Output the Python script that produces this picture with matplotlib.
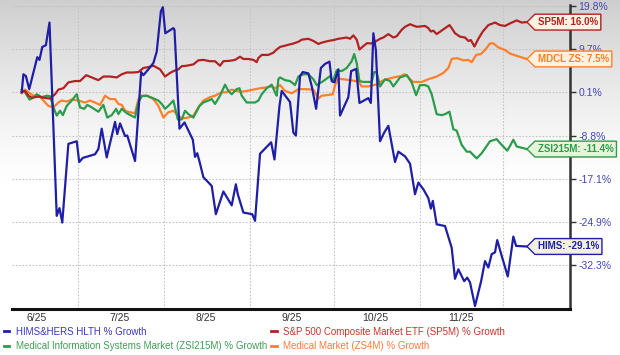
import numpy as np
import pandas as pd
import matplotlib
matplotlib.use("Agg")
import matplotlib.pyplot as plt
from matplotlib.path import Path
from matplotlib.lines import Line2D

plt.rcParams["font.family"] = ["Liberation Sans", "DejaVu Sans"]

# data: x = days since 2025-06-09, y = % growth
base = pd.Timestamp("2025-06-09")

hims_days = [1.7, 2.3, 3.2, 4.4, 7.3, 8.1, 9.1, 10.4, 11.7, 14.3, 15.3, 16.3, 18.5, 21.5, 22.4,
             23.7, 28.1, 29.3, 30.5, 32.3, 35.3, 36.1, 37.1, 38.9, 39.7, 42.5, 44.7, 45.5, 47.3,
             49.1, 50.3, 51.8, 52.5, 53.4, 56.3, 56.7, 58.5, 60.3, 63.3, 64.1, 64.9, 65.9, 67.1,
             70.1, 71.6, 74.3, 77.3, 78.8, 79.5, 81.5, 84.7, 85.7, 87.5, 91.5, 92.7, 94.5, 95.3,
             98.3, 99.5, 100.4, 101.9, 102.9, 104.9, 106.1, 107.7, 109.4, 110.9, 112.5, 113.3,
             114.3, 115.7, 116.3, 119.3, 120.3, 122.1, 123.3, 126.5, 127.4, 128.3, 129.2, 130.7,
             132.2, 133.7, 136.1, 137.3, 139.7, 141.5, 143.3, 144.5, 146.3, 148.1, 149.0, 149.7,
             151.1, 154.1, 156.5, 157.7, 158.9, 161.0, 162.1, 163.1, 164.9, 167.1, 168.5, 169.7,
             170.9, 172.1, 172.9, 174.5, 176.7, 178.7, 179.7, 183.5]
hims_vals = [0.1, 4.1, 3.7, 0.8, 7.9, 7.3, 10.2, 10.6, 15.9, -23.8, -22.4, -25.0, -10.4, -9.9, -13.9,
             -13.1, -12.4, -11.4, -7.4, -13.0, -6.0, -8.5, -6.3, -8.9, -8.8, -13.7, 4.6, 3.9, 5.2,
             6.6, 9.1, 18.5, 19.5, 13.4, 14.6, 14.2, -7.4, -6.1, -9.6, -12.9, -12.2, -14.2, -16.8,
             -18.4, -23.5, -19.4, -21.9, -18.1, -19.9, -23.2, -23.5, -24.7, -12.3, -10.1, -13.4, -2.7, 0.4,
             -1.9, -8.2, -8.8, 3.7, 4.6, 4.3, 1.5, -3.3, 5.5, 6.4, 6.9, 2.6,
             2.3, 5.2, -4.7, -0.9, 4.8, 5.3, -2.1, -1.1, -2.1, 13.4, 9.5, -9.9,
             -8.2, -6.8, -13.9, -11.9, -12.8, -14.2, -19.9, -17.8, -19.0, -20.6, -22.5, -21.1,
             -25.3, -25.6, -29.3, -34.6, -33.0, -35.0, -34.4, -35.2, -39.2, -35.0, -31.6, -32.7,
             -30.4, -30.1, -28.0, -30.7, -34.2, -27.4, -29.0, -29.1]

sp5m_days = [1.7, 2.9, 4.1, 5.3, 7.7, 9.5, 11.9, 13.7, 14.9, 16.7, 18.5, 20.9, 22.7, 24.9, 26.9,
             29.3, 31.1, 33.5, 35.9, 37.7, 39.5, 41.9, 43.7, 45.5, 47.3, 49.1, 51.5, 53.3, 55.1,
             56.3, 58.1, 59.3, 61.1, 63.5, 65.3, 67.1, 69.5, 71.3, 73.1, 74.3, 76.7, 78.5, 80.3,
             81.5, 83.3, 85.1, 86.3, 86.9, 88.1, 90.5, 92.3, 93.5, 94.7, 97.1, 99.5, 101.3, 102.5,
             104.9, 106.7, 108.5, 109.7, 112.1, 113.9, 115.7, 118.7, 119.9, 121.1, 122.3, 123.3,
             124.7, 126.1, 127.4, 128.9, 130.7, 131.9, 133.7, 135.5, 136.7, 138.5, 139.7, 141.5,
             143.9, 146.9, 148.1, 149.0, 149.9, 151.1, 153.5, 155.7, 156.5, 157.7, 159.5, 161.3,
             162.5, 163.4, 164.7, 166.1, 167.7, 169.7, 172.1, 173.9, 175.7, 177.5, 179.9, 181.7, 183.5]
sp5m_vals = [0.2, 0.4, -0.6, -1.0, -0.8, -1.0, -1.2, -0.3, 0.7, 1.0, 2.3, 2.6, 2.6, 3.9, 3.4,
             2.8, 3.6, 3.6, 3.4, 4.1, 4.5, 4.5, 4.6, 5.5, 5.7, 6.0, 5.2, 3.6, 4.4,
             4.8, 5.2, 5.9, 6.0, 6.3, 7.2, 7.3, 7.0, 7.0, 6.0, 7.0, 7.1, 7.3, 8.0,
             7.5, 7.5, 7.3, 6.8, 7.7, 8.4, 8.4, 8.9, 9.6, 10.2, 10.6, 11.0, 11.4, 11.9,
             12.1, 11.6, 10.9, 11.2, 11.6, 11.8, 12.1, 12.4, 12.1, 12.9, 11.9, 9.6,
             10.4, 11.1, 11.0, 11.4, 12.1, 12.4, 13.2, 12.4, 12.7, 14.2, 14.9, 15.5,
             14.9, 15.1, 14.6, 13.8, 14.0, 13.2, 14.3, 15.3, 14.6, 13.4, 12.6, 12.4,
             11.6, 11.8, 10.3, 12.1, 13.8, 15.3, 15.9, 15.3, 15.1, 15.7, 16.4, 15.9, 16.0]

zsi_days = [1.7, 2.9, 4.5, 5.9, 7.1, 8.9, 10.7, 11.9, 13.1, 14.3, 15.5, 16.5, 17.9, 19.7, 21.5,
            22.7, 24.2, 25.3, 26.9, 29.3, 31.1, 32.5, 34.1, 35.7, 36.5, 37.7, 39.5, 42.5, 43.7,
            44.9, 46.7, 48.5, 50.9, 52.1, 53.3, 54.5, 56.3, 57.9, 59.3, 60.5, 61.7, 63.5, 65.7,
            67.1, 68.9, 70.1, 71.3, 73.1, 74.9, 76.1, 77.3, 79.1, 80.1, 80.9, 82.7, 85.7, 86.9,
            88.1, 89.9, 91.7, 92.9, 93.5, 94.1, 94.7, 96.5, 98.3, 100.1, 101.3, 103.1, 104.9,
            106.7, 107.9, 110.3, 112.7, 113.7, 115.1, 116.9, 118.7, 120.5, 121.4, 122.3, 123.3,
            124.7, 127.7, 128.6, 129.5, 130.7, 132.5, 134.3, 135.5, 137.9, 140.3, 142.1, 143.7,
            145.1, 146.9, 148.1, 149.3, 151.1, 152.9, 154.1, 155.7, 157.1, 158.3, 160.1, 161.9,
            163.1, 165.5, 167.3, 170.3, 172.7, 174.5, 176.5, 177.5, 178.7, 179.9, 183.5]
zsi_vals = [0.7, 0.1, -1.4, -1.0, -0.3, -0.9, -0.6, -0.7, -3.0, -4.7, -3.7, -4.6, -2.7, -1.6, -0.3,
            -3.0, -3.3, -2.5, -3.0, -3.9, -2.5, -5.1, -4.6, -3.3, -4.4, -3.3, -4.2, -5.1, -2.0,
            -0.7, -0.6, -1.0, -1.6, -2.3, -3.3, -2.7, -1.6, -5.5, -5.5, -3.7, -4.4, -5.1, -2.7,
            -2.0, -1.6, -1.3, -2.3, -0.6, 1.8, 0.4, -0.3, 0.8, 1.0, -0.6, -2.0, -2.0, -1.6,
            -0.3, 1.0, 1.8, 0.1, -0.6, 3.0, 3.4, 2.8, 2.6, 1.7, 3.6, 4.1, 4.1,
            3.0, 1.7, 2.6, 3.7, 2.4, 5.0, 4.8, 5.5, 7.0, 8.6, 6.6, 2.6,
            2.4, 2.4, 4.6, 4.5, 1.4, 3.0, 2.6, 1.4, 3.4, 3.9, 2.3, -0.5,
            1.7, 1.7, 1.4, -0.3, -4.4, -4.6, -4.4, -3.9, -7.5, -7.8, -10.6, -11.9,
            -11.9, -13.2, -12.2, -9.9, -9.5, -10.6, -11.7, -10.8, -9.6, -10.9, -11.4]

mdcl_days = [1.7, 2.9, 4.1, 5.9, 7.7, 9.5, 11.3, 13.1, 14.9, 16.1, 17.9, 19.7, 22.1, 24.5, 26.3,
             28.1, 29.9, 31.7, 33.5, 35.3, 36.5, 37.7, 38.9, 40.7, 42.5, 43.7, 44.9, 46.7, 49.1,
             50.9, 52.7, 54.5, 56.3, 58.1, 59.3, 61.7, 63.5, 65.3, 67.1, 69.5, 71.3, 73.7, 75.5,
             77.3, 80.3, 82.7, 85.1, 87.5, 89.9, 91.7, 92.9, 94.7, 96.5, 98.9, 101.3, 103.7, 106.7,
             108.5, 109.7, 111.5, 113.7, 114.5, 115.7, 117.5, 119.9, 121.7, 122.9, 124.1, 126.5,
             128.3, 130.1, 131.3, 133.1, 135.5, 138.2, 139.4, 140.3, 141.5, 142.7, 145.7, 148.1,
             151.1, 153.5, 155.3, 156.5, 158.3, 160.7, 162.5, 163.7, 165.3, 167.0, 168.5, 170.3,
             171.3, 173.3, 175.7, 177.5, 179.9, 183.5]
mdcl_vals = [-0.1, 0.7, 0.1, -0.6, -0.5, -1.6, -2.7, -3.0, -2.0, -1.6, -1.8, -1.4, -1.6, -2.0, -1.6,
             -2.0, -2.5, -0.6, -1.3, -1.3, -2.3, -2.5, -3.7, -4.0, -4.2, -1.3, -0.6, -0.6, -1.3,
             -2.7, -5.1, -4.0, -3.7, -4.7, -5.3, -5.1, -4.7, -3.0, -1.6, -0.9, -0.6, 0.1, 0.1,
             0.7, 0.2, 0.4, 0.7, 1.0, 1.2, 1.4, 1.0, 1.7, 0.4, -0.1, 0.8, 0.8, 0.7,
             -1.2, -0.6, -0.5, -0.3, 1.7, 3.1, 3.0, 2.8, 2.6, 2.6, 1.4, 1.4,
             1.7, 1.9, 2.6, 3.0, 3.4, 3.7, 4.1, 3.9, 3.0, 2.4, 2.4, 3.0,
             3.6, 4.4, 5.5, 7.5, 7.7, 7.2, 7.3, 6.8, 8.4, 8.6, 9.5, 11.0,
             11.1, 10.1, 9.5, 8.7, 8.2, 7.5]

tick_vals = [19.8, 9.7, 0.1, -8.8, -17.1, -24.9, -32.3]
month_labels = ["6/25", "7/25", "8/25", "9/25", "10/25", "11/25"]

# colors
c_hims, c_sp5m, c_zsi, c_mdcl = "#1f1fa6", "#b22222", "#2b9c4b", "#ff7f2a"

# axis scale: tick marks are evenly spaced
scale_v = np.array([-46.9, -39.6] + tick_vals[::-1] + [30.0])
scale_p = np.arange(len(scale_v)) - 8.0


def fwd(v):
    return np.interp(v, scale_v, scale_p)


def inv(p):
    return np.interp(p, scale_p, scale_v)


def tag_box(x0, y0, width, height, mutation_size):
    pad = 0.3 * mutation_size
    left = x0 - pad
    right = x0 + width + pad
    bot = y0 - pad
    top = y0 + height + pad
    mid = (bot + top) / 2
    tip = (top - bot) * 0.5
    verts = [(left - tip, mid), (left, bot), (right, bot), (right, top), (left, top), (left - tip, mid)]
    codes = [Path.MOVETO, Path.LINETO, Path.LINETO, Path.LINETO, Path.LINETO, Path.CLOSEPOLY]
    return Path(verts, codes)


fig = plt.figure(figsize=(6.2, 3.55), dpi=100)

# background gradient (grey at the top fading to white)
bg = fig.add_axes([0, 0, 1, 1], zorder=-10)
t = np.linspace(0, 1, 300)
shade = 1 - 0.19 * np.clip(1 - t / 0.52, 0, 1) ** 1.3
grad = np.repeat(shade[:, None, None], 3, axis=2)
bg.imshow(grad, aspect="auto", extent=[0, 1, 0, 1], interpolation="bilinear")
bg.axis("off")

ax = fig.add_axes([12 / 620, 1 - 309 / 355, (570 - 12) / 620, (309 - 5) / 355])
ax.set_facecolor("none")
ax.set_yscale("function", functions=(fwd, inv))

series = [
    (hims_days, hims_vals, c_hims, "HIMS&HERS HLTH % Growth", "HIMS", "#f3f1dc", "#3838b8"),
    (sp5m_days, sp5m_vals, c_sp5m, "S&P 500 Composite Market ETF (SP5M) % Growth", "SP5M", "#fdf3e2", "#c8342c"),
    (zsi_days, zsi_vals, c_zsi, "Medical Information Systems Market (ZSI215M) % Growth", "ZSI215M", "#e8f4da", "#3f9e58"),
    (mdcl_days, mdcl_vals, c_mdcl, "Medical Market (ZS4M) % Growth", "MDCL ZS", "#fff1e0", "#ff7b3a"),
]

for days, vals, col, _, _, _, _ in series[::-1]:
    ax.plot(days, vals, color=col, lw=1.6, solid_joinstyle="round")

for days, vals, col, _, short, fill, _ in series:
    ax.annotate(f"{short}: {vals[-1]:.1f}%", xy=(days[-1], vals[-1]), xytext=(8, 0),
                textcoords="offset points", ha="left", va="center", fontsize=7,
                fontweight="bold", color=col, annotation_clip=False, zorder=10,
                bbox=dict(boxstyle=tag_box, fc=fill, ec=col, lw=1.0))

month_starts = [(pd.Timestamp(f"2025-{m:02d}-01") - base).days for m in range(7, 13)]
month_mids = [(pd.Timestamp(f"2025-{m:02d}-16") - base).days for m in range(6, 12)]

ax.set_xlim(-1.8, 199.1)
ax.set_ylim(-39.7, 20.0)
ax.set_xticks(month_starts)
ax.set_xticklabels([])
ax.set_xticks(month_mids, minor=True)
ax.set_xticklabels(month_labels, minor=True, fontsize=7.5, color="#333333")
ax.tick_params(axis="x", which="both", length=0, pad=3)

ax.yaxis.tick_right()
ax.set_yticks(tick_vals)
ax.set_yticklabels([f"{v:.1f}%" for v in tick_vals], fontsize=7.5, color="#4646b4")
ax.set_yticks([], minor=True)
ax.tick_params(axis="y", length=4, width=1, color="#333333", pad=2)

ax.grid(True, which="major", color="#c4c4c4", linestyle=(0, (1.5, 1.5)), lw=0.8)
for side in ["left", "top"]:
    ax.spines[side].set_visible(False)
ax.spines["bottom"].set_linewidth(2.2)
ax.spines["bottom"].set_color("#111111")
ax.spines["right"].set_linewidth(1.8)
ax.spines["right"].set_color("#333333")

# legend below
order = [0, 2, 1, 3]
handles = [Line2D([], [], color=series[i][2], lw=2) for i in order]
labels = [series[i][3] for i in order]
leg = fig.legend(handles, labels, ncol=2, loc="lower left", bbox_to_anchor=(0.0, 0.0),
                 frameon=False, fontsize=7, handlelength=0.55, handletextpad=0.7,
                 columnspacing=0.4, borderpad=0.2, borderaxespad=0.2, labelspacing=0.45)
for txt, i in zip(leg.get_texts(), order):
    txt.set_color(series[i][6])

fig.savefig("out.png", dpi=100)
